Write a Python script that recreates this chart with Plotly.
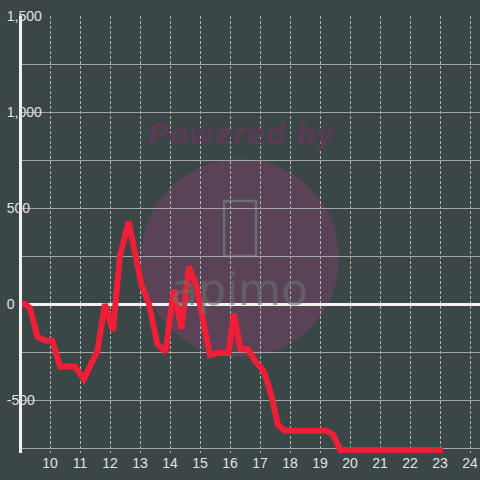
import plotly.graph_objects as go

# ---- data ----
hours = [9.0, 9.17, 9.33, 9.58, 9.83, 10.08, 10.33, 10.83, 11.13, 11.58,
         11.83, 12.1, 12.33, 12.62, 13.05, 13.3, 13.58, 13.85, 14.13, 14.38,
         14.63, 14.88, 15.33, 15.6, 15.95, 16.13, 16.35, 16.6, 16.85, 17.13,
         17.35, 17.6, 17.83, 18.5, 19.2, 19.43, 19.68, 20.5, 21.5, 22.5, 23.1]
values = [0, 0, -20, -170, -190, -190, -325, -325, -390, -245,
          0, -140, 250, 430, 100, 0, -210, -250, 75, -130,
          195, 90, -265, -255, -255, -50, -235, -235, -300, -350,
          -460, -630, -660, -660, -660, -678, -760, -760, -760, -760, -760]

x_ticks = list(range(10, 25))
x_labels = [str(v) for v in x_ticks]
y_ticks = [-750, -500, -250, 0, 250, 500, 750, 1000, 1250, 1500]
y_labels = ["", "-500", "", "0", "", "500", "", "1,000", "", "1,500"]

BG = "#3b4646"
FONT = "Liberation Sans, Arial, sans-serif"

fig = go.Figure()
fig.add_trace(go.Scatter(
    x=hours, y=values, mode="lines",
    line=dict(color="#ee1f36", width=6),
    hoverinfo="skip", showlegend=False,
))

fig.update_layout(
    template="none",
    width=480, height=480,
    paper_bgcolor=BG, plot_bgcolor=BG,
    margin=dict(l=20, r=0, t=16, b=27, pad=0),
    font=dict(family=FONT, size=14, color="#e2e2e2"),
    xaxis=dict(
        range=[9, 24.333], automargin=False,
        tickmode="array", tickvals=x_ticks, ticktext=x_labels,
        showgrid=True, gridcolor="#b4b4b4", gridwidth=1, griddash="3px,2px",
        zeroline=False, showline=False, ticks="",
        tickfont=dict(size=14, color="#e2e2e2"),
    ),
    yaxis=dict(
        range=[-776, 1500], automargin=False,
        tickmode="array", tickvals=y_ticks, ticktext=y_labels,
        side="right", anchor="free", position=0,
        ticklabelstandoff=-18, ticklabeloverflow="allow",
        showgrid=True, gridcolor="#a6a6a6", gridwidth=1,
        zeroline=True, zerolinecolor="#f2f2f2", zerolinewidth=3,
        showline=True, linecolor="#f2f2f2", linewidth=3,
        ticks="",
        tickfont=dict(size=14, color="#e2e2e2"),
    ),
)

# ---- watermark (decoration) ----
fig.add_shape(type="circle", xref="paper", yref="paper",
              x0=0.263, x1=0.6935, y0=0.2197, y1=0.6728,
              fillcolor="#5b4357", line=dict(width=0), layer="below")
fig.add_shape(type="rect", xref="paper", yref="paper",
              x0=0.4435, x1=0.513, y0=0.4508, y1=0.5767,
              line=dict(color="#687171", width=2.5), layer="below")
fig.add_annotation(xref="paper", yref="paper", x=0.4815, y=0.7277,
                   xanchor="center", yanchor="middle",
                   text="<b><i>Powered by</i></b>", showarrow=False,
                   font=dict(family="DejaVu Sans", size=28, color="#5a3b55"))
fig.add_annotation(xref="paper", yref="paper", x=0.478, y=0.373,
                   xanchor="center", yanchor="middle",
                   text="apimo", showarrow=False, opacity=0.6,
                   font=dict(family="DejaVu Sans", size=44, color="#687171"))

fig.write_html(
    "out.html",
    config={"displayModeBar": False},
    post_script="document.body.style.margin='0';document.body.style.overflow='hidden';",
)
